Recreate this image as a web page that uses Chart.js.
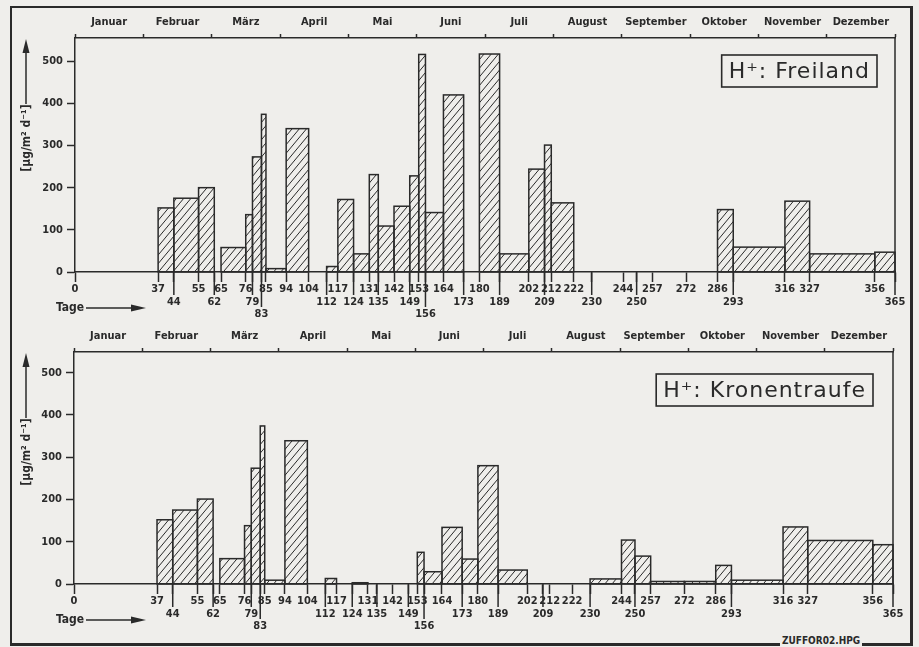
<!DOCTYPE html>
<html>
<head>
<meta charset="utf-8">
<script src="https://cdn.jsdelivr.net/npm/chart.js@4.4.1/dist/chart.umd.min.js"></script>
<style>
  body { margin: 0; background: #efeeeb; width: 919px; height: 647px; overflow: hidden; position: relative; }
  canvas { position: absolute; left: 0; }
  #top { top: 0; }
  #bottom { top: 323px; }
  #frame { position: absolute; left: 10px; top: 6px; width: 903px; height: 640px; box-sizing: border-box;
           border: 2px solid #2a2a2a; border-right-width: 3px; border-bottom-width: 3px; pointer-events: none; }
  #fname { position: absolute; left: 780px; top: 635px; padding: 0 2px; background: #efeeeb;
           font: bold 10px "DejaVu Sans Condensed", "DejaVu Sans", sans-serif; line-height: 12px; color: #2a2a2a; }
</style>
</head>
<body>
<canvas id="top" width="919" height="323"></canvas>
<canvas id="bottom" width="919" height="324"></canvas>
<div id="frame"></div>
<div id="fname">ZUFFOR02.HPG</div>
<script>
// Sammelperioden (Tag des Jahres) und H+-Deposition [µg/m² d⁻¹]
const binStart = [37, 44, 55, 62, 65, 76, 79, 83, 85, 94, 104, 112, 117, 124, 131, 135, 142, 149, 153,
                  156, 164, 173, 180, 189, 202, 209, 212, 222, 230, 244, 250, 257, 272, 286, 293, 316, 327, 356];
const binEnd = [44, 55, 62, 65, 76, 79, 83, 85, 94, 104, 112, 117, 124, 131, 135, 142, 149, 153, 156,
                164, 173, 180, 189, 202, 209, 212, 222, 230, 244, 250, 257, 272, 286, 293, 316, 327, 356, 365];
const freiland = [152, 175, 200, null, 58, 136, 273, 374, 8, 340, null, 13, 172, 43, 231, 109, 156, 228, 516,
                  141, 420, null, 517, 43, 244, 301, 164, null, null, null, null, null, null, 148, 59, 168, 43, 47];
const kronentraufe = [152, 175, 201, null, 60, 138, 274, 374, 9, 339, null, 13, null, 3, null, null, null, null, 75,
                      29, 134, 59, 280, 33, null, null, null, null, 12, 104, 66, 6, 6, 44, 9, 135, 103, 93];

const months = ['Januar', 'Februar', 'März', 'April', 'Mai', 'Juni', 'Juli', 'August',
                'September', 'Oktober', 'November', 'Dezember'];
const yTicks = [0, 100, 200, 300, 400, 500];
// Tageslabels in drei Zeilen
const dayRow1 = [0, 37, 55, 65, 76, 85, 94, 104, 117, 131, 142, 153, 164, 180, 202, 212, 222, 244, 257, 272, 286, 316, 327, 356];
const dayRow2 = [44, 62, 79, 112, 124, 135, 149, 173, 189, 209, 230, 250, 293, 365];
const dayRow3 = [83, 156];

const ink = '#2a2a2a';
const font = '"DejaVu Sans Condensed", "DejaVu Sans"';
const allDays = [...dayRow1, ...dayRow2, ...dayRow3].sort((a, b) => a - b);

const hatchBars = {
  id: 'hatchBars',
  afterDatasetsDraw(chart) {
    const { ctx, scales: { x, y } } = chart;
    const y0 = y.getPixelForValue(0);
    const step = 7.2, slope = 1.2;
    chart.data.datasets[0].data.forEach(p => {
      if (p.y == null) return;
      const l = x.getPixelForValue(p.x), r = x.getPixelForValue(p.x2), t = y.getPixelForValue(p.y);
      const run = (y0 - t) / slope;
      ctx.save();
      ctx.beginPath();
      ctx.rect(l, t, r - l, y0 - t);
      ctx.clip();
      ctx.strokeStyle = ink;
      ctx.lineWidth = 1;
      ctx.beginPath();
      for (let s = Math.floor((l - run) / step) * step; s < r + step; s += step) {
        ctx.moveTo(s, y0);
        ctx.lineTo(s + run, t);
      }
      ctx.stroke();
      ctx.restore();
      ctx.save();
      ctx.strokeStyle = ink;
      ctx.lineWidth = 1.5;
      ctx.strokeRect(l, t, r - l, y0 - t);
      ctx.restore();
    });
  }
};

const decorations = {
  id: 'decorations',
  afterDraw(chart, args, opts) {
    const { ctx, chartArea: a, scales: { x } } = chart;
    ctx.save();
    ctx.strokeStyle = ink;
    ctx.fillStyle = ink;
    ctx.lineWidth = 1.5;

    // rechte Rahmenlinie
    ctx.beginPath();
    ctx.moveTo(a.right, a.top);
    ctx.lineTo(a.right, a.bottom);
    ctx.stroke();

    // lange Striche für 2. und 3. Zeile
    ctx.beginPath();
    dayRow2.forEach(d => { const px = x.getPixelForValue(d); ctx.moveTo(px, a.bottom); ctx.lineTo(px, a.bottom + 23); });
    dayRow3.forEach(d => { const px = x.getPixelForValue(d); ctx.moveTo(px, a.bottom); ctx.lineTo(px, a.bottom + 35); });
    ctx.stroke();

    // y-Achsentitel mit Pfeil
    const ax = 26;
    ctx.beginPath();
    ctx.moveTo(ax, a.top + 8);
    ctx.lineTo(ax, a.top + 66);
    ctx.stroke();
    ctx.beginPath();
    ctx.moveTo(ax, a.top + 1);
    ctx.lineTo(ax - 3.5, a.top + 15);
    ctx.lineTo(ax + 3.5, a.top + 15);
    ctx.closePath();
    ctx.fill();
    ctx.save();
    ctx.translate(ax + 1, a.top + 100);
    ctx.rotate(-Math.PI / 2);
    ctx.font = 'bold 12px ' + font;
    ctx.textAlign = 'center';
    ctx.textBaseline = 'middle';
    ctx.fillText('[µg/m² d⁻¹]', 0, 0);
    ctx.restore();

    // Tage mit Pfeil
    const ty = a.bottom + 36;
    ctx.font = 'bold 12px ' + font;
    ctx.textAlign = 'left';
    ctx.textBaseline = 'middle';
    ctx.fillText('Tage', 56, ty);
    ctx.beginPath();
    ctx.moveTo(86, ty);
    ctx.lineTo(135, ty);
    ctx.stroke();
    ctx.beginPath();
    ctx.moveTo(146, ty);
    ctx.lineTo(131, ty - 3.5);
    ctx.lineTo(131, ty + 3.5);
    ctx.closePath();
    ctx.fill();

    // Legendenkasten
    ctx.font = '22px "DejaVu Sans"';
    ctx.letterSpacing = '1px';
    const w = ctx.measureText(opts.text).width + 14;
    const bx = a.right - opts.right - w, by = a.top + opts.top, bh = 32;
    ctx.lineWidth = 1.6;
    ctx.strokeRect(bx, by, w, bh);
    ctx.textBaseline = 'middle';
    ctx.fillText(opts.text, bx + 7, by + bh / 2 + 1);
    ctx.restore();
  }
};

function makeChart(id, values, label, pad, legendPos) {
  const monthTicks = [];
  for (let k = 0; k <= 24; k++) monthTicks.push(k * 365 / 24);
  return new Chart(document.getElementById(id), {
    type: 'scatter',
    data: {
      datasets: [{
        label: label,
        data: binStart.map((s, i) => ({ x: s, x2: binEnd[i], y: values[i] })),
        pointRadius: 0,
        showLine: false
      }]
    },
    options: {
      responsive: false,
      animation: false,
      devicePixelRatio: 1,
      layout: { padding: pad },
      plugins: {
        legend: { display: false },
        tooltip: { enabled: false },
        decorations: { text: label, right: legendPos.right, top: legendPos.top }
      },
      scales: {
        x: {
          type: 'linear', position: 'bottom', min: 0, max: 365,
          afterBuildTicks: s => { s.ticks = allDays.map(v => ({ value: v })); },
          afterFit: s => { s.height = pad.xHeight; },
          ticks: {
            autoSkip: false, maxRotation: 0, minRotation: 0, padding: 1, color: ink,
            font: { family: font, size: 11, weight: 'bold', lineHeight: 1.15 },
            callback: v => dayRow3.includes(v) ? ['', '', String(v)]
                         : dayRow2.includes(v) ? ['', String(v)] : String(v)
          },
          grid: { drawOnChartArea: false, tickLength: 10, tickColor: ink, tickWidth: 1.5 },
          border: { color: ink, width: 1.5 }
        },
        xTop: {
          type: 'linear', position: 'top', min: 0, max: 365,
          afterBuildTicks: s => { s.ticks = monthTicks.map(v => ({ value: v })); },
          afterFit: s => { s.height = 24; },
          ticks: {
            autoSkip: false, maxRotation: 0, minRotation: 0, padding: 5, color: ink,
            font: { family: font, size: 11, weight: 'bold', lineHeight: 1.2 },
            callback: (v, i) => i % 2 ? months[(i - 1) / 2] : ''
          },
          grid: {
            drawOnChartArea: false, tickLength: 4, tickWidth: 1.5,
            tickColor: c => c.index % 2 ? 'rgba(0,0,0,0)' : ink
          },
          border: { color: ink, width: 1.5 }
        },
        y: {
          min: 0, max: pad.yMax,
          afterBuildTicks: s => { s.ticks = yTicks.map(v => ({ value: v })); },
          afterFit: s => { s.width = 36; },
          ticks: { padding: 4, color: ink, font: { family: font, size: 11, weight: 'bold' } },
          grid: { drawOnChartArea: false, tickLength: 8, tickColor: ink, tickWidth: 1.5 },
          border: { color: ink, width: 1.5 }
        }
      }
    },
    plugins: [hatchBars, decorations]
  });
}

makeChart('top', freiland, 'H⁺: Freiland',
  { top: 14, bottom: 0, left: 39, right: 24, yMax: 555, xHeight: 51 }, { right: 18, top: 17 });
makeChart('bottom', kronentraufe, 'H⁺: Kronentraufe',
  { top: 5, bottom: 8, left: 38, right: 26, yMax: 549, xHeight: 55 }, { right: 20, top: 22 });
</script>
</body>
</html>
